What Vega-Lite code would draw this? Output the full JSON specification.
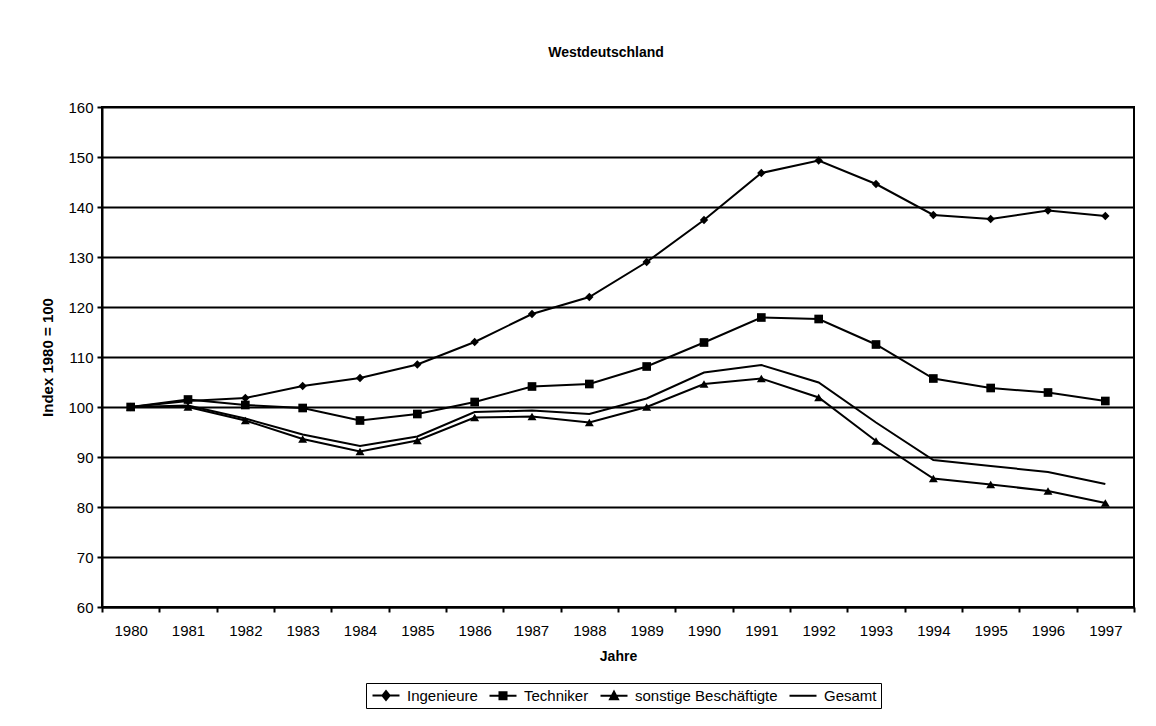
{
  "$schema": "https://vega.github.io/schema/vega-lite/v6.json",
  "autosize": "none",
  "width": 1032,
  "height": 500,
  "padding": {"left": 102, "top": 107, "right": 22, "bottom": 119},
  "background": "white",
  "title": {
    "text": "Westdeutschland",
    "font": "Liberation Sans",
    "fontSize": 14,
    "fontWeight": "bold",
    "color": "black",
    "anchor": "middle",
    "frame": "group",
    "offset": 40,
    "dx": -12
  },
  "data": {
    "values": [
      {"Jahr": "1980", "Gruppe": "Ingenieure", "Wert": 100},
      {"Jahr": "1981", "Gruppe": "Ingenieure", "Wert": 101.2},
      {"Jahr": "1982", "Gruppe": "Ingenieure", "Wert": 101.8},
      {"Jahr": "1983", "Gruppe": "Ingenieure", "Wert": 104.2},
      {"Jahr": "1984", "Gruppe": "Ingenieure", "Wert": 105.8},
      {"Jahr": "1985", "Gruppe": "Ingenieure", "Wert": 108.5},
      {"Jahr": "1986", "Gruppe": "Ingenieure", "Wert": 113.0},
      {"Jahr": "1987", "Gruppe": "Ingenieure", "Wert": 118.6},
      {"Jahr": "1988", "Gruppe": "Ingenieure", "Wert": 122.0},
      {"Jahr": "1989", "Gruppe": "Ingenieure", "Wert": 129.0},
      {"Jahr": "1990", "Gruppe": "Ingenieure", "Wert": 137.4},
      {"Jahr": "1991", "Gruppe": "Ingenieure", "Wert": 146.8},
      {"Jahr": "1992", "Gruppe": "Ingenieure", "Wert": 149.3},
      {"Jahr": "1993", "Gruppe": "Ingenieure", "Wert": 144.6},
      {"Jahr": "1994", "Gruppe": "Ingenieure", "Wert": 138.4},
      {"Jahr": "1995", "Gruppe": "Ingenieure", "Wert": 137.6},
      {"Jahr": "1996", "Gruppe": "Ingenieure", "Wert": 139.3},
      {"Jahr": "1997", "Gruppe": "Ingenieure", "Wert": 138.2},
      {"Jahr": "1980", "Gruppe": "Techniker", "Wert": 100},
      {"Jahr": "1981", "Gruppe": "Techniker", "Wert": 101.5},
      {"Jahr": "1982", "Gruppe": "Techniker", "Wert": 100.4},
      {"Jahr": "1983", "Gruppe": "Techniker", "Wert": 99.8},
      {"Jahr": "1984", "Gruppe": "Techniker", "Wert": 97.3},
      {"Jahr": "1985", "Gruppe": "Techniker", "Wert": 98.6},
      {"Jahr": "1986", "Gruppe": "Techniker", "Wert": 101.0},
      {"Jahr": "1987", "Gruppe": "Techniker", "Wert": 104.1},
      {"Jahr": "1988", "Gruppe": "Techniker", "Wert": 104.6},
      {"Jahr": "1989", "Gruppe": "Techniker", "Wert": 108.1},
      {"Jahr": "1990", "Gruppe": "Techniker", "Wert": 112.9},
      {"Jahr": "1991", "Gruppe": "Techniker", "Wert": 117.9},
      {"Jahr": "1992", "Gruppe": "Techniker", "Wert": 117.6},
      {"Jahr": "1993", "Gruppe": "Techniker", "Wert": 112.5},
      {"Jahr": "1994", "Gruppe": "Techniker", "Wert": 105.7},
      {"Jahr": "1995", "Gruppe": "Techniker", "Wert": 103.8},
      {"Jahr": "1996", "Gruppe": "Techniker", "Wert": 102.9},
      {"Jahr": "1997", "Gruppe": "Techniker", "Wert": 101.2},
      {"Jahr": "1980", "Gruppe": "sonstige Beschäftigte", "Wert": 100},
      {"Jahr": "1981", "Gruppe": "sonstige Beschäftigte", "Wert": 100.0},
      {"Jahr": "1982", "Gruppe": "sonstige Beschäftigte", "Wert": 97.3},
      {"Jahr": "1983", "Gruppe": "sonstige Beschäftigte", "Wert": 93.6},
      {"Jahr": "1984", "Gruppe": "sonstige Beschäftigte", "Wert": 91.1},
      {"Jahr": "1985", "Gruppe": "sonstige Beschäftigte", "Wert": 93.3},
      {"Jahr": "1986", "Gruppe": "sonstige Beschäftigte", "Wert": 97.9},
      {"Jahr": "1987", "Gruppe": "sonstige Beschäftigte", "Wert": 98.1},
      {"Jahr": "1988", "Gruppe": "sonstige Beschäftigte", "Wert": 96.9},
      {"Jahr": "1989", "Gruppe": "sonstige Beschäftigte", "Wert": 100.0},
      {"Jahr": "1990", "Gruppe": "sonstige Beschäftigte", "Wert": 104.6},
      {"Jahr": "1991", "Gruppe": "sonstige Beschäftigte", "Wert": 105.7},
      {"Jahr": "1992", "Gruppe": "sonstige Beschäftigte", "Wert": 101.9},
      {"Jahr": "1993", "Gruppe": "sonstige Beschäftigte", "Wert": 93.2},
      {"Jahr": "1994", "Gruppe": "sonstige Beschäftigte", "Wert": 85.7},
      {"Jahr": "1995", "Gruppe": "sonstige Beschäftigte", "Wert": 84.5},
      {"Jahr": "1996", "Gruppe": "sonstige Beschäftigte", "Wert": 83.2},
      {"Jahr": "1997", "Gruppe": "sonstige Beschäftigte", "Wert": 80.8},
      {"Jahr": "1980", "Gruppe": "Gesamt", "Wert": 100},
      {"Jahr": "1981", "Gruppe": "Gesamt", "Wert": 100.3},
      {"Jahr": "1982", "Gruppe": "Gesamt", "Wert": 97.7},
      {"Jahr": "1983", "Gruppe": "Gesamt", "Wert": 94.5},
      {"Jahr": "1984", "Gruppe": "Gesamt", "Wert": 92.2},
      {"Jahr": "1985", "Gruppe": "Gesamt", "Wert": 94.1},
      {"Jahr": "1986", "Gruppe": "Gesamt", "Wert": 99.0},
      {"Jahr": "1987", "Gruppe": "Gesamt", "Wert": 99.3},
      {"Jahr": "1988", "Gruppe": "Gesamt", "Wert": 98.6},
      {"Jahr": "1989", "Gruppe": "Gesamt", "Wert": 101.7},
      {"Jahr": "1990", "Gruppe": "Gesamt", "Wert": 106.9},
      {"Jahr": "1991", "Gruppe": "Gesamt", "Wert": 108.4},
      {"Jahr": "1992", "Gruppe": "Gesamt", "Wert": 104.9},
      {"Jahr": "1993", "Gruppe": "Gesamt", "Wert": 96.9},
      {"Jahr": "1994", "Gruppe": "Gesamt", "Wert": 89.4},
      {"Jahr": "1995", "Gruppe": "Gesamt", "Wert": 88.2},
      {"Jahr": "1996", "Gruppe": "Gesamt", "Wert": 87.0},
      {"Jahr": "1997", "Gruppe": "Gesamt", "Wert": 84.6}
    ]
  },
  "encoding": {
    "x": {
      "field": "Jahr",
      "type": "ordinal",
      "bandPosition": 0.5,
      "scale": {"type": "band", "paddingInner": 0, "paddingOuter": 0},
      "axis": {
        "title": "Jahre",
        "labelAngle": 0,
        "tickBand": "extent",
        "tickSize": 5,
        "tickWidth": 2,
        "tickColor": "black",
        "domainColor": "black",
        "domainWidth": 2,
        "labelPadding": 11,
        "titlePadding": 11,
        "titleFontSize": 14,
        "grid": false
      }
    },
    "y": {
      "field": "Wert",
      "type": "quantitative",
      "scale": {"domain": [60, 160], "nice": false, "zero": false},
      "axis": {
        "title": "Index 1980 = 100",
        "values": [60, 70, 80, 90, 100, 110, 120, 130, 140, 150, 160],
        "tickSize": 5,
        "tickWidth": 2,
        "tickColor": "black",
        "domainColor": "black",
        "domainWidth": 2,
        "labelPadding": 4,
        "titlePadding": 12,
        "titleFontSize": 15,
        "grid": true,
        "gridColor": "black",
        "gridWidth": 2
      }
    }
  },
  "layer": [
    {
      "mark": {"type": "line", "strokeWidth": 2, "clip": false},
      "encoding": {
        "color": {
          "field": "Gruppe",
          "type": "nominal",
          "sort": ["Ingenieure", "Techniker", "sonstige Beschäftigte", "Gesamt"],
          "scale": {
            "domain": ["Ingenieure", "Techniker", "sonstige Beschäftigte", "Gesamt"],
            "range": ["black", "black", "black", "black"]
          },
          "legend": {
            "title": null,
            "orient": "none",
            "direction": "horizontal",
            "legendX": 264,
            "legendY": 576,
            "strokeColor": "black",
            "fillColor": "white",
            "padding": 4,
            "symbolSize": 225,
            "symbolStrokeWidth": 2,
            "labelOffset": 20,
            "columnPadding": 7,
            "labelFont": "Liberation Sans",
            "labelFontSize": 15,
            "labelColor": "black",
            "labelLimit": 400,
            "encode": {
              "symbols": {
                "update": {
                  "shape": {"signal": "datum.value === 'Ingenieure' ? 'M-0.8,0H2.8M0.52,0L1,-0.6L1.48,0L1,0.6Z' : datum.value === 'Techniker' ? 'M-0.8,0H2.8M0.53,-0.47H1.47V0.47H0.53Z' : datum.value === 'Gesamt' ? 'M-0.8,0H2.8' : 'M-0.8,0H2.8M0.47,0.45L1,-0.55L1.53,0.45Z'"},
                  "fill": {"value": "black"},
                  "stroke": {"value": "black"},
                  "strokeWidth": {"value": 2}
                }
              }
            }
          }
        }
      }
    },
    {
      "transform": [{"filter": "datum.Gruppe !== 'Gesamt'"}],
      "mark": {"type": "point", "filled": true, "opacity": 1, "color": "black", "clip": false},
      "encoding": {
        "shape": {
          "field": "Gruppe",
          "type": "nominal",
          "scale": {
            "domain": ["Ingenieure", "Techniker", "sonstige Beschäftigte"],
            "range": ["diamond", "square", "triangle-up"]
          },
          "legend": null
        },
        "size": {
          "field": "Gruppe",
          "type": "nominal",
          "scale": {
            "domain": ["Ingenieure", "Techniker", "sonstige Beschäftigte"],
            "range": [70, 80, 90]
          },
          "legend": null
        }
      }
    }
  ],
  "config": {
    "view": {"stroke": "black", "strokeWidth": 2},
    "axis": {
      "labelFont": "Liberation Sans",
      "labelFontSize": 15,
      "labelColor": "black",
      "titleFont": "Liberation Sans",
      "titleFontWeight": "bold",
      "titleColor": "black"
    }
  }
}
